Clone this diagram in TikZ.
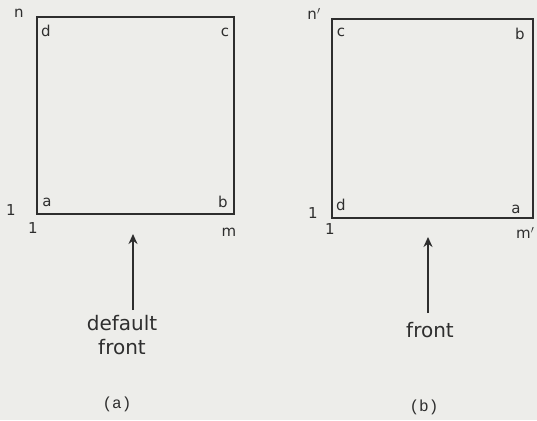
\documentclass[tikz,border=0pt]{standalone}
\usepackage{fontspec}
\usetikzlibrary{arrows.meta}
\setmainfont{DejaVu Sans}
\newfontfamily\capfont{Liberation Mono}
\definecolor{paper}{HTML}{EDEDEA}
\definecolor{ink}{HTML}{2E2E2E}
\begin{document}
\begin{tikzpicture}[x=1pt,y=-1pt,
  box/.style={draw=ink,line width=2.8pt},
  lbl/.style={text=ink,font=\fontsize{15}{15}\selectfont,inner sep=0pt},
  word/.style={text=ink,font=\fontsize{20}{24}\selectfont,align=center,inner sep=0pt},
  captxt/.style={text=ink,font=\capfont\fontsize{16}{16}\selectfont,inner sep=0pt},
  arr/.style={draw=ink,line width=2pt,-{Stealth[length=10pt,width=9pt]}}]
\fill[paper] (0,0) rectangle (537,420);
\useasboundingbox (0,0) rectangle (537,420);
% left square
\coordinate (LA) at (37,214);
\coordinate (LC) at (234,17);
\draw[box] (LA) rectangle (LC);
\node[lbl] (ln) at (19,13) {n};
\node[lbl] (ld) at (46,31) {d};
\node[lbl] (lc) at (225,32) {c};
\node[lbl] (la) at (47,202) {a};
\node[lbl] (lb) at (223,202) {b};
\node[lbl] (l1a) at (11,210) {1};
\node[lbl] (l1b) at (33,228) {1};
\node[lbl] (lm) at (229,232) {m};
\coordinate (ltip) at (133,234);
\coordinate (ltail) at (133,310);
\node[word] (ldef) at (122,335) {default\\front};
\draw[arr] (ltail) -- (ltip);
\node[captxt] (capa) at (117,404) {(a)};
% right square
\coordinate (RA) at (332,218);
\coordinate (RC) at (533,19);
\draw[box] (RA) rectangle (RC);
\node[lbl] (rn) at (314,14) {n$'$};
\node[lbl] (rc) at (341,32) {c};
\node[lbl] (rb) at (520,34) {b};
\node[lbl] (rd) at (341,205) {d};
\node[lbl] (ra) at (516,209) {a};
\node[lbl] (r1a) at (313,213) {1};
\node[lbl] (r1b) at (330,229) {1};
\node[lbl,anchor=west] (rm) at (516,233) {m$'$};
\coordinate (rtip) at (428,237);
\coordinate (rtail) at (428,313);
\node[word] (rfr) at (430,330) {front};
\draw[arr] (rtail) -- (rtip);
\node[captxt] (capb) at (424,407) {(b)};
\end{tikzpicture}
\end{document}
